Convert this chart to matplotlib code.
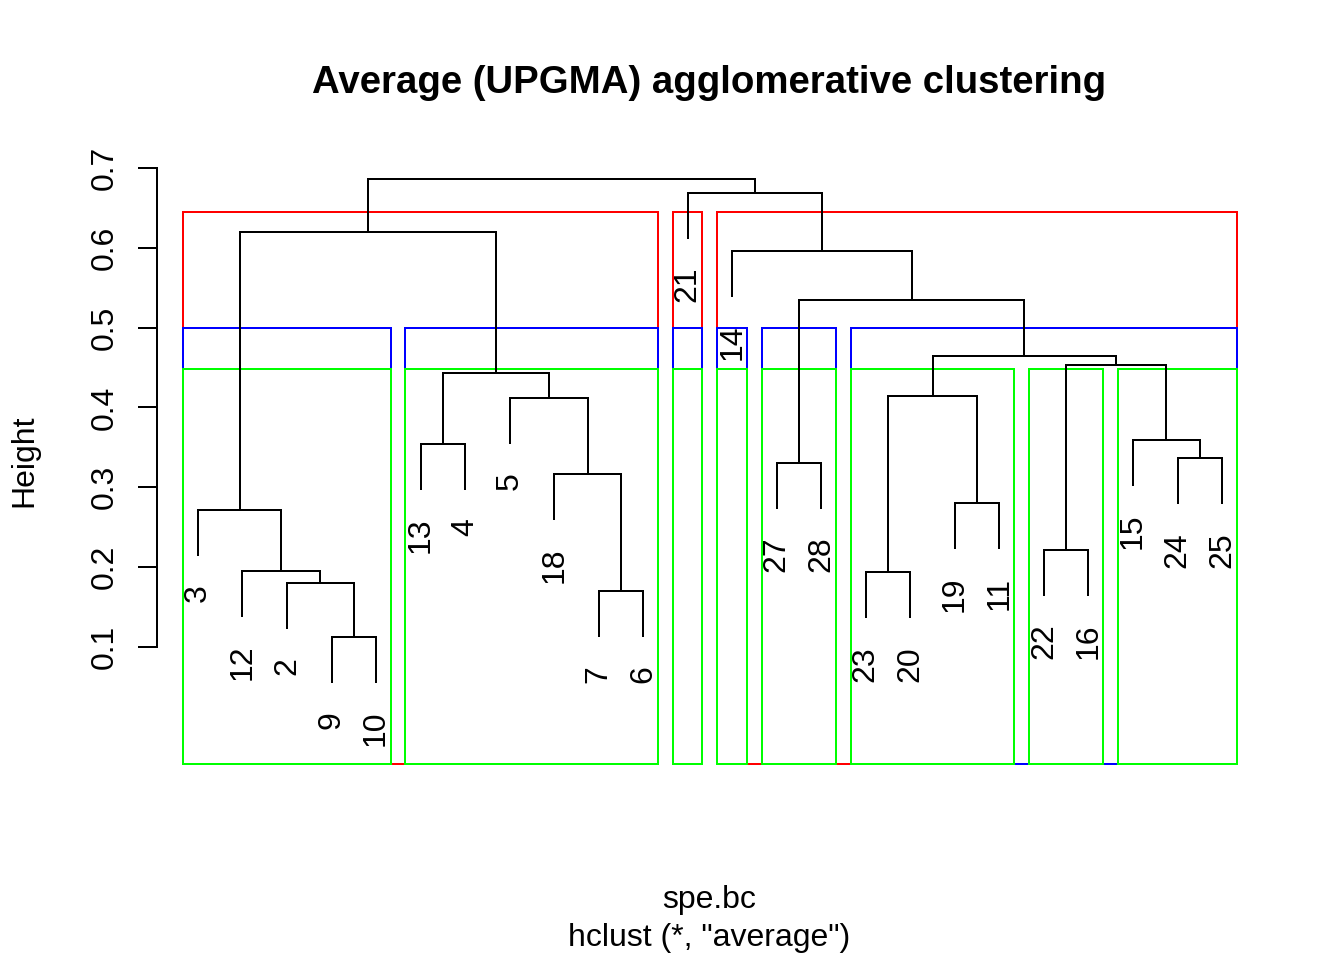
import matplotlib.pyplot as plt
from matplotlib.patches import Rectangle

plt.rcParams['font.family'] = ['Liberation Sans', 'DejaVu Sans']

# sites in the order the dendrogram places them
leaf_order = ["3", "12", "2", "9", "10", "13", "4", "5", "18", "7", "6", "21",
              "14", "27", "28", "23", "20", "19", "11", "22", "16", "15", "24", "25"]

# each merge joins two items: a string is a site, an int points at an earlier merge
merge_a = ["9", "7", "2", "23", "12", "22", "3", "19", "18", "27", "24", "13",
           "15", "5", 3, 11, 5, 14, 9, "14", 6, "21", 20]
merge_b = ["10", "6", 0, "20", 2, "16", 4, "11", 1, "28", "25", "4",
           10, 8, 7, 13, 12, 16, 17, 18, 15, 19, 21]
merge_h = [0.1119, 0.1693, 0.1793, 0.1931, 0.1948, 0.2211, 0.2709, 0.2800,
           0.3161, 0.3305, 0.3361, 0.3537, 0.3587, 0.4114, 0.4143, 0.4432,
           0.4528, 0.4645, 0.5348, 0.5962, 0.6201, 0.6690, 0.6866]

# rect.hclust cuts: number of groups and box colour
cut_k = [3, 6, 8]
cut_col = ["#FF0000", "#0000FF", "#00FF00"]

n = len(leaf_order)
hang = 0.1 * (max(merge_h) - min(merge_h))
lw = 1.44

leaf_x = {lab: i + 1 for i, lab in enumerate(leaf_order)}
node_x = []


def item_x(it):
    return leaf_x[it] if isinstance(it, str) else node_x[it]


def leaves(it):
    if isinstance(it, str):
        return [it]
    return leaves(merge_a[it]) + leaves(merge_b[it])


fig = plt.figure(figsize=(13.44, 9.6), dpi=100)
ax = fig.add_axes([157 / 1344, 1 - 764 / 960, (1263 - 157) / 1344, (764 - 157) / 960])
ax.set_xlim(1 - 0.04 * (n - 1), n + 0.04 * (n - 1))
ax.set_ylim(-0.047, 0.7138)

for i, (a, b, h) in enumerate(zip(merge_a, merge_b, merge_h)):
    xa, xb = item_x(a), item_x(b)
    ya = h - hang if isinstance(a, str) else merge_h[a]
    yb = h - hang if isinstance(b, str) else merge_h[b]
    ax.plot([xa, xa, xb, xb], [ya, h, h, yb], color="black", lw=lw,
            solid_capstyle="butt", solid_joinstyle="miter")
    node_x.append((xa + xb) / 2)
    for it, y in ((a, ya), (b, yb)):
        if isinstance(it, str):
            ax.annotate(it, (leaf_x[it], y), xytext=(0, -20), textcoords="offset points",
                        rotation=90, ha="center", va="top", fontsize=23)

# boxes around the groups
y0 = ax.get_ylim()[0]
root = len(merge_h) - 1
for k, col in zip(cut_k, cut_col):
    cut = set(range(root, root - (k - 1), -1))
    groups = []
    for m in cut:
        for ch in (merge_a[m], merge_b[m]):
            if isinstance(ch, str) or ch not in cut:
                groups.append(leaves(ch))
    top = (merge_h[root - (k - 2)] + merge_h[root - (k - 1)]) / 2
    for g in groups:
        xs = [leaf_x[s] for s in g]
        left, right = min(xs) - 0.34, max(xs) + 0.33
        ax.add_patch(Rectangle((left, y0), right - left, top - y0, fill=False,
                               edgecolor=col, lw=lw, clip_on=False, joinstyle="miter"))

for s in ["top", "right", "bottom"]:
    ax.spines[s].set_visible(False)
ax.spines["left"].set_bounds(0.1, 0.7)
ax.spines["left"].set_linewidth(lw)
ax.set_xticks([])
yt = [0.1, 0.2, 0.3, 0.4, 0.5, 0.6, 0.7]
ax.set_yticks(yt)
ax.set_yticklabels([f"{v:.1f}" for v in yt], rotation=90, va="center")
ax.tick_params(axis="y", length=13.7, width=lw, labelsize=23, pad=13)

fig.text(709.5 / 1344, 1 - 93 / 960, "Average (UPGMA) agglomerative clustering",
         ha="center", va="baseline", fontsize=27.6, fontweight="bold")
fig.text(709.5 / 1344, 1 - 908 / 960, "spe.bc", ha="center", va="baseline", fontsize=23)
fig.text(709.5 / 1344, 1 - 946 / 960, 'hclust (*, "average")', ha="center",
         va="baseline", fontsize=23)
fig.text(24 / 1344, 1 - 460.5 / 960, "Height", rotation=90, ha="center", va="center",
         fontsize=23)

fig.savefig("out.png", dpi=100)
